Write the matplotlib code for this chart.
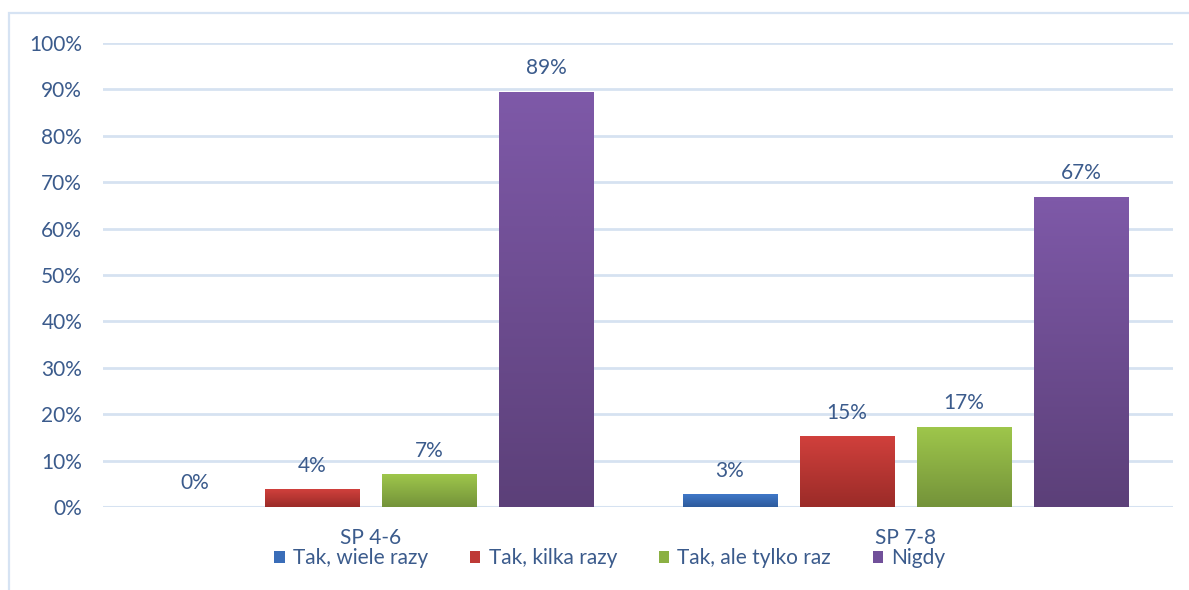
import matplotlib
matplotlib.use("Agg")
import matplotlib.pyplot as plt
import numpy as np
from matplotlib.colors import LinearSegmentedColormap
from matplotlib.patches import Rectangle, Patch

categories = ["SP 4-6", "SP 7-8"]
series = ["Tak, wiele razy", "Tak, kilka razy", "Tak, ale tylko raz", "Nigdy"]
values = {
    "Tak, wiele razy": [0.0, 2.6],
    "Tak, kilka razy": [3.7, 15.1],
    "Tak, ale tylko raz": [6.9, 17.2],
    "Nigdy": [89.4, 66.8],
}

# top / bottom colours of the gradient fills
grad = {
    "Tak, wiele razy": ("#3F78C8", "#2D5A9C"),
    "Tak, kilka razy": ("#D0403C", "#9B2B28"),
    "Tak, ale tylko raz": ("#9EC64B", "#74933A"),
    "Nigdy": ("#7E59A8", "#5C4079"),
}
legend_col = {"Tak, wiele razy": "#3A6DB8", "Tak, kilka razy": "#BE3A36",
              "Tak, ale tylko raz": "#8BB043", "Nigdy": "#71509A"}

txt = "#3B5B8C"
grid_col = "#D6E2F1"
fs = 15
plt.rcParams['font.family'] = ['Lato', 'DejaVu Sans']

fig = plt.figure(figsize=(11.89, 5.90), dpi=100)
ax = fig.add_axes([103/1189, 1-507/590, 1070/1189, 464/590])

# outer frame
fig.patches.append(Rectangle((9/1189, -0.05), 1.1, 1-13/590+0.05, transform=fig.transFigure,
                             fill=False, edgecolor="#D6E3F3", lw=1.6))

x = np.arange(len(categories))
w = 0.176
step = 0.219
offsets = (np.arange(len(series)) - 1.5) * step

for i, s in enumerate(series):
    cmap = LinearSegmentedColormap.from_list(s, [grad[s][0], grad[s][1]])
    for xi, v in zip(x + offsets[i], values[s]):
        if v > 0:
            ax.imshow(np.linspace(0, 1, 64).reshape(-1, 1), cmap=cmap, aspect="auto",
                      extent=(xi - w/2, xi + w/2, 0, v), zorder=2, interpolation="bilinear")
        ax.annotate(f"{round(v):.0f}%", (xi, v), xytext=(0, 10), textcoords="offset points",
                    ha="center", va="bottom", fontsize=fs, color=txt)

ax.set_xlim(-0.5, 1.5)
ax.set_ylim(0, 100)
ax.set_yticks(np.arange(0, 101, 10))
ax.set_yticklabels([f"{t}%" for t in range(0, 101, 10)])
ax.set_xticks(x)
ax.set_xticklabels(categories)
ax.tick_params(axis="both", length=0, labelsize=fs, labelcolor=txt)
ax.tick_params(axis="y", pad=15)
ax.tick_params(axis="x", pad=15)
ax.yaxis.grid(True, color=grid_col, lw=2)
ax.set_axisbelow(True)
for sp in ax.spines.values():
    sp.set_visible(False)
ax.axhline(0, color=grid_col, lw=2.2, zorder=1)

handles = [Patch(facecolor=legend_col[s], edgecolor="none") for s in series]
fig.legend(handles, series, loc="center", bbox_to_anchor=(0.513, 1-558/590), ncol=4,
           frameon=False, fontsize=fs, labelcolor=txt, handlelength=0.5, handleheight=0.5,
           handletextpad=0.4, columnspacing=2.0)

fig.savefig("out.png", dpi=100)
